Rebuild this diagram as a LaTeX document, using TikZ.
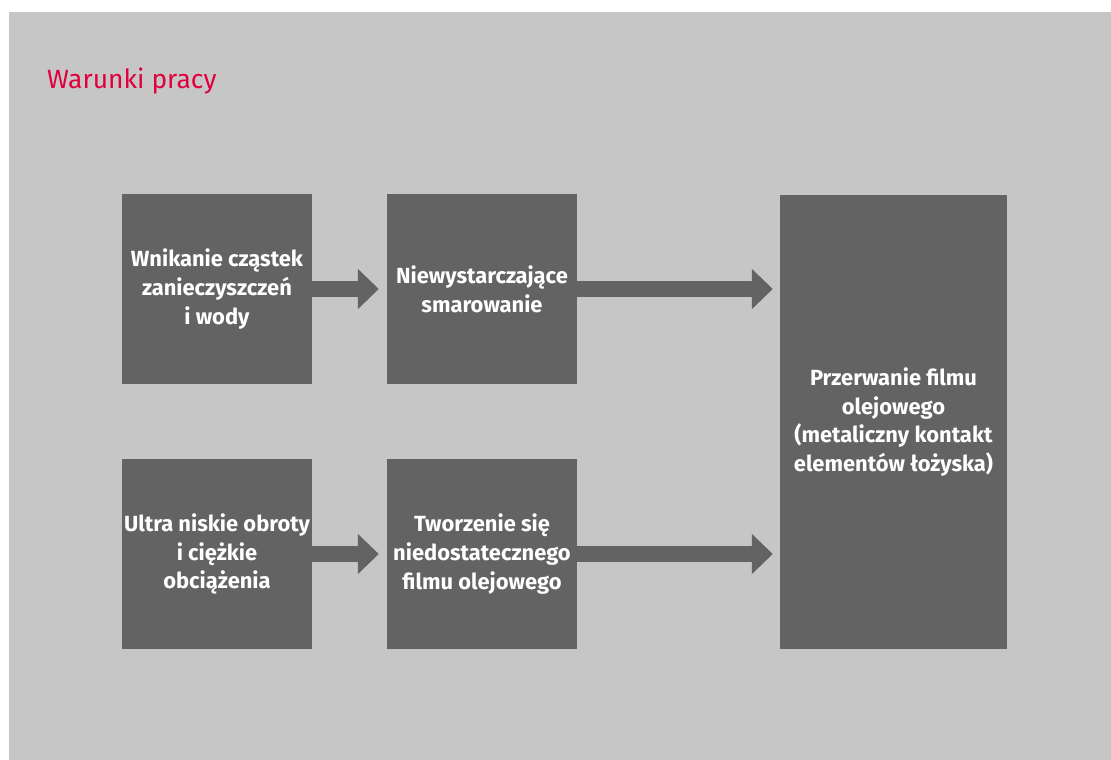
\documentclass[tikz,border=0pt]{standalone}
\usepackage{fontspec}
\setmainfont{Fira Sans}
\usetikzlibrary{arrows.meta}
\definecolor{bggray}{HTML}{C6C6C6}
\definecolor{boxgray}{HTML}{636363}
\definecolor{titlered}{HTML}{E2003C}
\begin{document}
\begin{tikzpicture}[x=1bp,y=-1bp,
  box/.style={fill=boxgray, draw=none, inner sep=0pt, text=white, align=center,
    font=\fontsize{22}{29}\selectfont\bfseries},
  smallbox/.style={box, minimum width=190bp, minimum height=190bp},
  flow/.style={draw=boxgray, line width=16bp, -{Triangle[length=21bp,width=39bp]}}
]
\useasboundingbox (0,0) rectangle (1111,760);
\fill[white] (0,0) rectangle (1111,760);
\fill[bggray] (9,12) rectangle (1111,760);
\node[anchor=base west, text=titlered, font=\fontsize{26.5}{32}\selectfont, inner sep=0pt] (title) at (47,88.5) {Warunki pracy};
\node[smallbox] (A) at (217,289) {Wnikanie cząstek\\zanieczyszczeń\\i wody};
\node[smallbox] (B) at (482,289) {Niewystarczające\\smarowanie};
\node[smallbox] (C) at (217,554) {Ultra niskie obroty\\i ciężkie\\obciążenia};
\node[smallbox] (D) at (482,554) {Tworzenie się\\niedostatecznego\\filmu olejowego};
\node[box, minimum width=227bp, minimum height=454bp] (E) at (893.5,422) {Przerwanie filmu\\olejowego\\(metaliczny kontakt\\elementów łożyska)};
\draw[flow, shorten >=8bp] (A.east) -- (B.west);
\draw[flow, shorten >=8bp] (C.east) -- (D.west);
\draw[flow, shorten >=7bp] (B.east) -- (E.west |- B.east);
\draw[flow, shorten >=7bp] (D.east) -- (E.west |- D.east);
\end{tikzpicture}
\end{document}
